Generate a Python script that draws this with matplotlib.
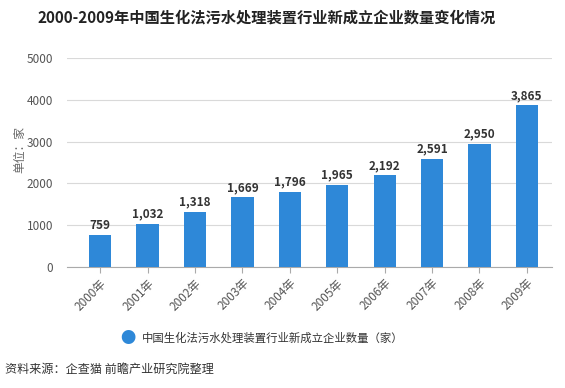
import matplotlib
matplotlib.use("Agg")
import matplotlib.pyplot as plt

plt.rcParams['font.family'] = ['Noto Sans CJK SC', 'DejaVu Sans']

years = ["2000年", "2001年", "2002年", "2003年", "2004年", "2005年", "2006年", "2007年", "2008年", "2009年"]
values = [759, 1032, 1318, 1669, 1796, 1965, 2192, 2591, 2950, 3865]
yticks = [0, 1000, 2000, 3000, 4000, 5000]

title = "2000-2009年中国生化法污水处理装置行业新成立企业数量变化情况"
series_name = "中国生化法污水处理装置行业新成立企业数量（家）"
ylabel = "单位：家"
source = "资料来源：企查猫 前瞻产业研究院整理"

color = "#2e88d8"

fig = plt.figure(figsize=(5.65, 3.88), dpi=100)
ax = fig.add_axes([67/565, 1-267/388, (552-67)/565, (267-58)/388])

x = list(range(len(years)))
ax.bar(x, values, width=0.47, color=color, zorder=3)
for xi, v in zip(x, values):
    ax.text(xi, v + 80, f"{v:,}", ha="center", va="bottom", fontsize=8.5,
            fontweight="bold", color="#333333")

ax.set_xlim(-0.7, 9.53)
ax.set_ylim(0, 5000)
ax.set_yticks(yticks)
ax.set_yticklabels([str(t) for t in yticks], fontsize=8.5, color="#555555")
ax.yaxis.grid(True, color="#d9d9d9", linewidth=0.8, zorder=0)
ax.tick_params(axis="y", length=0, pad=10)
ax.set_xticks(x)
ax.set_xticklabels(years, rotation=45, ha="right", rotation_mode="anchor",
                   fontsize=8.5, color="#555555")
ax.tick_params(axis="x", length=4, color="#aaaaaa", pad=3)
for s in ["top", "right", "left"]:
    ax.spines[s].set_visible(False)
ax.spines["bottom"].set_color("#aaaaaa")

fig.text(20/565, 1-150/388, ylabel, rotation=90, ha="center", va="center",
         fontsize=8.5, color="#666666")
fig.text(267/565, 1-18/388, title, ha="center", va="center", fontsize=11,
         fontweight="bold", color="#222222")

fig.text(128/565, 1-338/388, "●", ha="center", va="center", fontsize=11, color=color)
fig.text(142/565, 1-338/388, series_name, ha="left", va="center", fontsize=8.2, color="#333333")
fig.text(5/565, 1-369/388, source, ha="left", va="center", fontsize=8.7, color="#333333")

fig.savefig("out.png", dpi=100)
